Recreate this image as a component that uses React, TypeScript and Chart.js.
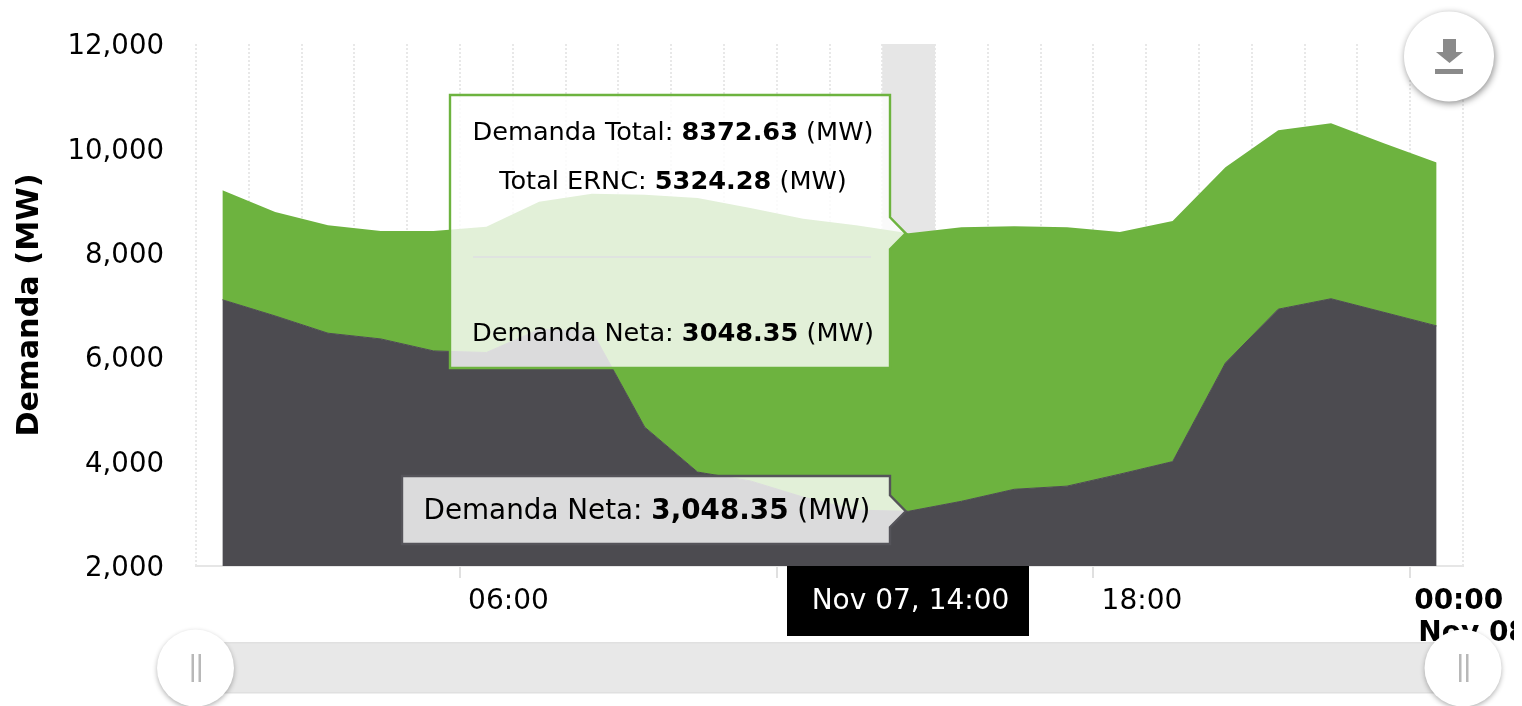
import React, { useEffect, useRef } from "react";
import { Chart, registerables } from "chart.js";

Chart.register(...registerables);

const hours = [1.5, 2.5, 3.5, 4.5, 5.5, 6.5, 7.5, 8.5, 9.5, 10.5, 11.5, 12.5, 13.5, 14.5, 15.5, 16.5, 17.5, 18.5, 19.5, 20.5, 21.5, 22.5, 23.5, 24.5];
const demandaTotal = [9200, 8780, 8530, 8420, 8420, 8500, 8980, 9130, 9110, 9050, 8860, 8650, 8530, 8372.63, 8490, 8510, 8490, 8400, 8610, 9640, 10350, 10480, 10100, 9730];
const demandaNeta = [7100, 6790, 6460, 6350, 6120, 6090, 6530, 6500, 4660, 3800, 3630, 3320, 3070, 3048.35, 3240, 3470, 3530, 3760, 4000, 5890, 6920, 7120, 6860, 6600];
const majorTickLabels: Record<number, string> = { 6: "06:00", 12: "12:00", 18: "18:00", 24: "00:00" };
const dayLabel = "Nov 08";
const dayLabelHour = 24;
const hoverHour = 14.5;
const FONT = '"DejaVu Sans", sans-serif';
const GREEN = "#6db33f";
const DARK = "#4c4b50";

type Seg = [string, boolean];

function drawSegs(ctx: CanvasRenderingContext2D, segs: Seg[], cx: number, y: number, size: number) {
  let w = 0;
  for (const [t, b] of segs) {
    ctx.font = `${b ? "bold " : ""}${size}px ${FONT}`;
    w += ctx.measureText(t).width;
  }
  let x = cx - w / 2;
  ctx.textAlign = "left";
  ctx.textBaseline = "middle";
  ctx.fillStyle = "#000";
  for (const [t, b] of segs) {
    ctx.font = `${b ? "bold " : ""}${size}px ${FONT}`;
    ctx.fillText(t, x, y);
    x += ctx.measureText(t).width;
  }
}

function tipBox(ctx: CanvasRenderingContext2D, l: number, t: number, r: number, b: number, tipX: number, tipY: number, stroke: string) {
  ctx.beginPath();
  ctx.moveTo(l, t);
  ctx.lineTo(r, t);
  ctx.lineTo(r, tipY - 16);
  ctx.lineTo(tipX, tipY);
  ctx.lineTo(r, tipY + 16);
  ctx.lineTo(r, b);
  ctx.lineTo(l, b);
  ctx.closePath();
  ctx.fillStyle = "rgba(255,255,255,0.8)";
  ctx.fill();
  ctx.strokeStyle = stroke;
  ctx.lineWidth = 2.4;
  ctx.stroke();
}

function handle(ctx: CanvasRenderingContext2D, cx: number, cy: number) {
  ctx.save();
  ctx.shadowColor = "rgba(0,0,0,0.3)";
  ctx.shadowBlur = 5;
  ctx.shadowOffsetY = 2;
  ctx.fillStyle = "#fff";
  ctx.beginPath();
  ctx.arc(cx, cy, 38.5, 0, Math.PI * 2);
  ctx.fill();
  ctx.restore();
  ctx.fillStyle = "#b8b8b8";
  ctx.fillRect(cx - 4, cy - 14, 2.5, 28);
  ctx.fillRect(cx + 3, cy - 14, 2.5, 28);
}

const hoverBand = {
  id: "hoverBand",
  beforeDatasetsDraw(chart: any) {
    const { ctx, scales, chartArea } = chart;
    const l = scales.x.getPixelForValue(Math.floor(hoverHour));
    const r = scales.x.getPixelForValue(Math.floor(hoverHour) + 1);
    ctx.save();
    ctx.fillStyle = "#e6e6e6";
    ctx.fillRect(l, chartArea.top, r - l, chartArea.bottom - chartArea.top);
    ctx.restore();
  },
};

const overlays = {
  id: "overlays",
  afterDraw(chart: any) {
    const { ctx, scales } = chart;
    const i = hours.indexOf(hoverHour);
    const tipX = scales.x.getPixelForValue(hoverHour) - 3;
    const totalY = scales.y.getPixelForValue(demandaTotal[i]);
    const netaY = scales.y.getPixelForValue(demandaNeta[i]);
    ctx.save();

    // second line of the last axis label, left aligned under the first
    ctx.fillStyle = "#000";
    ctx.font = `bold 28px ${FONT}`;
    ctx.textAlign = "left";
    ctx.textBaseline = "middle";
    ctx.fillText(dayLabel, scales.x.getPixelForValue(dayLabelHour) + 8, 634);

    // shared tooltip
    tipBox(ctx, 450, 95, 890, 368, tipX, totalY, GREEN);
    drawSegs(ctx, [["Demanda Total: ", false], ["8372.63", true], [" (MW)", false]], 673, 133, 25.6);
    drawSegs(ctx, [["Total ERNC: ", false], ["5324.28", true], [" (MW)", false]], 673, 182, 25.6);
    ctx.fillStyle = "#dfe3e0";
    ctx.fillRect(473, 256, 398, 2);
    drawSegs(ctx, [["Demanda Neta: ", false], ["3048.35", true], [" (MW)", false]], 673, 334, 25.6);

    // series tooltip
    tipBox(ctx, 402, 476, 890, 544, tipX, netaY, "#55545a");
    drawSegs(ctx, [["Demanda Neta: ", false], ["3,048.35", true], [" (MW)", false]], 647, 512, 27.8);

    // crosshair label
    ctx.fillStyle = "#000";
    ctx.fillRect(787, 566, 242, 70);
    ctx.fillStyle = "#fff";
    ctx.font = `28px ${FONT}`;
    ctx.textAlign = "center";
    ctx.textBaseline = "middle";
    ctx.fillText("Nov 07, 14:00", 910.5, 602);

    // navigator
    ctx.fillStyle = "#e8e8e8";
    ctx.fillRect(196, 643, 1268, 50);
    ctx.fillStyle = "#e0e0e0";
    ctx.fillRect(196, 642, 1268, 1.5);
    ctx.fillRect(196, 692, 1268, 1.5);
    handle(ctx, 195.5, 668);
    handle(ctx, 1463, 668);

    // export button
    ctx.save();
    ctx.shadowColor = "rgba(0,0,0,0.45)";
    ctx.shadowBlur = 7;
    ctx.shadowOffsetX = 1;
    ctx.shadowOffsetY = 2;
    ctx.fillStyle = "#fff";
    ctx.beginPath();
    ctx.arc(1449, 56.5, 45, 0, Math.PI * 2);
    ctx.fill();
    ctx.restore();
    ctx.fillStyle = "#8a8a8a";
    ctx.beginPath();
    ctx.moveTo(1443, 39);
    ctx.lineTo(1456, 39);
    ctx.lineTo(1456, 52);
    ctx.lineTo(1463, 52);
    ctx.lineTo(1449.5, 63);
    ctx.lineTo(1436, 52);
    ctx.lineTo(1443, 52);
    ctx.closePath();
    ctx.fill();
    ctx.fillRect(1435, 69, 28, 5);
    ctx.restore();
  },
};

export default function App() {
  const ref = useRef<HTMLCanvasElement>(null);
  useEffect(() => {
    document.body.style.margin = "0";
    const chart = new Chart(ref.current!, {
      type: "line",
      data: {
        datasets: [
          {
            label: "Demanda Neta",
            data: hours.map((x, i) => ({ x, y: demandaNeta[i] })),
            backgroundColor: DARK,
            borderColor: DARK,
            borderWidth: 1,
            pointRadius: 0,
            tension: 0,
            fill: "start",
          },
          {
            label: "Demanda Total",
            data: hours.map((x, i) => ({ x, y: demandaTotal[i] })),
            backgroundColor: GREEN,
            borderWidth: 0,
            pointRadius: 0,
            tension: 0,
            fill: "-1",
          },
        ],
      },
      plugins: [hoverBand, overlays],
      options: {
        responsive: false,
        animation: false,
        events: [],
        layout: { padding: { left: 0, right: 51, top: 44, bottom: 50 } },
        plugins: { legend: { display: false }, tooltip: { enabled: false } },
        scales: {
          x: {
            type: "linear",
            min: 1,
            max: 25,
            afterFit: (s: any) => { s.height = 90; s.paddingLeft = 0; s.paddingRight = 0; },
            border: { color: "#e6e6e6", width: 2, dash: [2, 2] },
            grid: {
              color: "#e8e8e8",
              lineWidth: 2,
              tickLength: 12,
              tickColor: (c: any) => (majorTickLabels[c.tick?.value] ? "#e0e0e0" : "transparent"),
            },
            ticks: {
              stepSize: 1,
              autoSkip: false,
              maxRotation: 0,
              minRotation: 0,
              labelOffset: 48.5,
              padding: 6,
              color: "#000",
              font: (c: any) => ({
                family: FONT,
                size: 28,
                lineHeight: 1.3,
                weight: c.tick?.value === 24 ? "bold" : "normal",
              }),
              callback: (v: any) => majorTickLabels[v] ?? "",
            },
          },
          y: {
            min: 2000,
            max: 12000,
            afterFit: (s: any) => { s.width = 196; s.paddingTop = 0; s.paddingBottom = 0; },
            border: { display: false },
            grid: { display: false, drawTicks: false },
            ticks: {
              stepSize: 2000,
              padding: 32,
              labelOffset: 3,
              color: "#000",
              font: { family: FONT, size: 27.6 },
              callback: (v: any) => Number(v).toLocaleString("en-US"),
            },
            title: {
              display: true,
              text: "Demanda (MW)",
              color: "#000",
              font: { family: FONT, size: 30.3, weight: "bold" },
              padding: { top: 12, bottom: 0 },
            },
          },
        },
      },
    } as any);
    return () => chart.destroy();
  }, []);
  return (
    <div style={{ position: "absolute", left: 0, top: 0, width: 1522, height: 706, overflow: "hidden", background: "#fff" }}>
      <canvas ref={ref} width={1514} height={706} style={{ display: "block" }} />
    </div>
  );
}
